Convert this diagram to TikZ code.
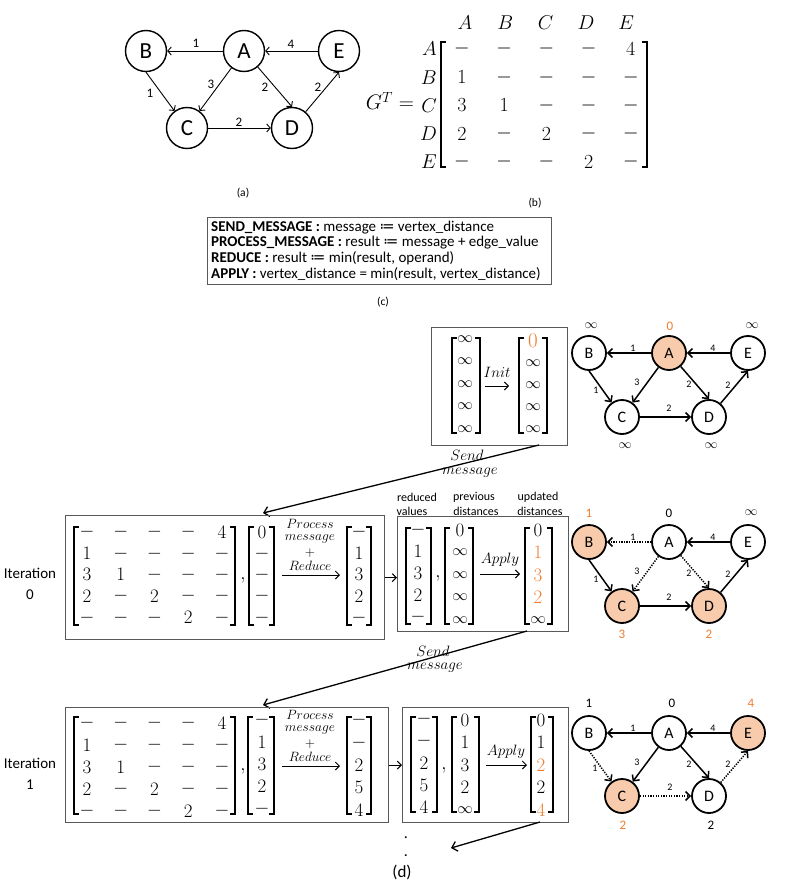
\RequirePackage{fix-cm}
\documentclass[tikz,border=0pt]{standalone}
\usepackage{fontspec}
\setmainfont{Carlito}
\newfontfamily\dejavu{DejaVu Sans}
\usetikzlibrary{arrows.meta,calc}
\definecolor{org}{HTML}{ED7D31}
\definecolor{pch}{HTML}{F8CBAD}
\definecolor{bxc}{HTML}{595959}
\newcommand\fs[1]{\fontsize{#1}{#1}\selectfont}
\newcommand\inff{\mbox{\fs{15.5}$\infty$}}
\newcommand\brkt[5][1.6pt]{%
  \draw[line width=#1] (#2+5,#4) -- (#2,#4) -- (#2,#5) -- (#2+5,#5);
  \draw[line width=#1] (#3-5,#4) -- (#3,#4) -- (#3,#5) -- (#3-5,#5);}
\newcommand\vect[4]{\foreach \e [count=\i from 0] in {#4} {\node[ent] at (#1,{#2+\i*#3}) {$\e$};}}
\newcommand\mtx[5]{\foreach \r [count=\i from 0] in {#5} {\foreach \e [count=\j from 0] in \r {\node[ent] at ({#1+\j*#2},{#3+\i*#4}) {$\e$};}}}
\begin{document}
\begin{tikzpicture}[x=1pt,y=-1pt,
 vtxA/.style={circle,draw,line width=1.4pt,minimum size=41pt,inner sep=0pt,font=\fs{23}},
 vtxD/.style={circle,draw,line width=1.8pt,minimum size=34pt,inner sep=0pt,font=\fs{16}},
 hl/.style={fill=pch},
 earr/.style={-{Straight Barb[length=3.5pt,width=8pt]},line width=0.9pt},
 darr/.style={-{Straight Barb[length=4.5pt,width=9pt]},line width=1.5pt},
 dotl/.style={dash pattern=on 1.3pt off 1.3pt},
 elA/.style={font=\fs{13},inner sep=0pt},
 elD/.style={font=\fs{10},inner sep=0pt},
 val/.style={font=\fs{13},inner sep=0pt},
 ent/.style={font=\fs{19},inner sep=0pt},
 lbl/.style={font=\fs{15},inner sep=0pt},
 stk/.style={font=\fs{13.5},inner sep=0pt},
 sml/.style={font=\fs{12},inner sep=0pt},
 ctxt/.style={font=\fs{15},anchor=base west,inner sep=0pt},
 box/.style={draw=bxc,line width=1.2pt,anchor=north west,inner sep=0pt},
 sarr/.style={-{Straight Barb[length=5pt,width=10pt]},line width=1.3pt},
 marr/.style={-{Straight Barb[length=4pt,width=8pt]},line width=1pt},
]
\path[use as bounding box] (0,0) rectangle (804,885);

% ---------- (a) ----------
\node[vtxA] (aB) at (146,51) {B};
\node[vtxA] (aA) at (244,51) {A};
\node[vtxA] (aE) at (339,51) {E};
\node[vtxA] (aC) at (187,128) {C};
\node[vtxA] (aD) at (292,128) {D};
\draw[earr] (aA) -- (aB);
\draw[earr] (aE) -- (aA);
\draw[earr] (aA) -- (aC);
\draw[earr] (aA) -- (aD.north);
\draw[earr] (aB.south) -- (aC);
\draw[earr] (aC) -- (aD);
\draw[earr] (aD) -- (aE.south);
\node[elA] (la1) at (196,43) {1};
\node[elA] (la2) at (291,44) {4};
\node[elA] (la3) at (211,84) {3};
\node[elA] (la4) at (265,87) {2};
\node[elA] (la5) at (318,87) {2};
\node[elA] (la6) at (150,93) {1};
\node[elA] (la7) at (239,122) {2};
\node[font=\fs{11.5}] (capa) at (243,193) {(a)};

% ---------- (b) ----------
\begin{scope}[ent/.append style={font=\fs{20}}]
\node[ent,font=\fs{21}] (gt) at (390,101) {$G^T =$};
\foreach \h [count=\j from 0] in {A,B,C,D,E} \node[ent] (h\h) at ({465+\j*40.3},23) {$\h$};
\foreach \h [count=\i from 0] in {A,B,C,D,E} \node[ent,anchor=east] (r\h) at (437,{49+\i*28.2}) {$\h$};
\brkt[2pt]{441}{647}{42}{167}
\mtx{462}{42.2}{49}{28.2}{{-,-,-,-,4},{1,-,-,-,-},{3,1,-,-,-},{2,-,2,-,-},{-,-,-,2,-}}
\end{scope}
\node[font=\fs{11.5}] (capb) at (535,203) {(b)};

% ---------- (c) ----------
\node[box,minimum width=344pt,minimum height=67pt] (cbox) at (207,217) {};
\node[ctxt] (ct1) at (211,231.5) {\textbf{SEND\_MESSAGE :} message {\dejavu ≔} vertex\_distance};
\node[ctxt] (ct2) at (211,247) {\textbf{PROCESS\_MESSAGE :} result {\dejavu ≔} message + edge\_value};
\node[ctxt] (ct3) at (211,262.5) {\textbf{REDUCE :} result {\dejavu ≔} min(result, operand)};
\node[ctxt] (ct4) at (211,278) {\textbf{APPLY :} vertex\_distance = min(result, vertex\_distance)};
\node[font=\fs{11.5}] (capc) at (383,302) {(c)};

% ---------- (d) init ----------
\node[box,minimum width=136pt,minimum height=118pt] (ibox) at (431,327) {};
\brkt{452}{480}{338}{433}
\vect{465}{339}{22.5}{\inff,\inff,\inff,\inff,\inff}
\brkt{519}{547}{338}{433}
\node[ent,text=org,font=\fs{21}] (i0) at (533,341) {$0$};
\vect{533}{363}{22}{\inff,\inff,\inff,\inff}
\node[lbl] (init) at (497,372) {$Init$};
\draw[marr] (485,386) -- (509,386);

\begin{scope}[shift={(0,353)}]
\node[vtxD] (iB) at (589,0) {B};
\node[vtxD,hl] (iA) at (669,0) {A};
\node[vtxD] (iE) at (748,0) {E};
\node[vtxD] (iC) at (622,64) {C};
\node[vtxD] (iD) at (709,64) {D};
\draw[darr] (iA) -- (iB);
\draw[darr] (iE) -- (iA);
\draw[darr] (iA) -- (iC);
\draw[darr] (iA) -- (iD.north);
\draw[darr] (iB.south) -- (iC);
\draw[darr] (iC) -- (iD);
\draw[darr] (iD) -- (iE.south);
\node[elD] at (633,-5) {1};
\node[elD] at (713,-5) {4};
\node[elD] at (637,29) {3};
\node[elD] at (689,31) {2};
\node[elD] at (728,32) {2};
\node[elD] at (596,37) {1};
\node[elD] at (669,55) {2};
\node[val] (ivB) at (591,-27) {$\infty$};
\node[val,text=org] (ivA) at (670,-27) {0};
\node[val] (ivE) at (752,-27) {$\infty$};
\node[val] (ivC) at (625,93) {$\infty$};
\node[val] (ivD) at (711,93) {$\infty$};
\end{scope}

\coordinate (s1a) at (539,445);
\coordinate (s1b) at (263,513);
\draw[sarr] (s1a) -- (s1b);
\node[lbl] (send1) at (467,455) {$Send$};
\node[lbl] (msg1) at (470,473) {$message$};

% ---------- iteration 0 ----------
\node[font=\fs{15}] (it0a) at (30,573) {Iteration};
\node[font=\fs{15}] (it0b) at (30,595) {0};
\node[box,minimum width=319pt,minimum height=124pt] (b0) at (65,515) {};
\brkt{74}{235}{527}{625}
\mtx{87}{33.75}{532}{21.4}{{-,-,-,-,4},{1,-,-,-,-},{3,1,-,-,-},{2,-,2,-,-},{-,-,-,2,-}}
\node[ent] at (243,580) {$,$};
\brkt{249}{274}{527}{625}
\vect{262}{532}{21.4}{0,-,-,-,-}
\node[stk] at (310,524) {$Process$};
\node[stk] at (310,539) {$message$};
\node[stk] at (310,553) {$+$};
\node[stk] at (310,566) {$Reduce$};
\draw[marr] (282,575) -- (340,575);
\brkt{347}{371}{527}{625}
\vect{359}{532}{21.4}{-,1,3,2,-}

\node[box,minimum width=171pt,minimum height=115pt] (b1) at (397,516) {};
\draw[marr] (b0.east) -- (b1.west |- b0.east);
\node[sml] at (417,497) {reduced};
\node[sml] at (412,511) {values};
\node[sml] at (474,497) {previous};
\node[sml] at (476,511) {distances};
\node[sml] at (538,497) {updated};
\node[sml] at (540,511) {distances};
\brkt{406}{431}{528}{624}
\vect{418}{530}{21.75}{-,1,3,2,-}
\node[ent] at (438,578) {$,$};
\brkt{445}{473}{528}{624}
\vect{460}{530}{22.5}{0,\inff,\inff,\inff,\inff}
\node[lbl] at (500,560) {$Apply$};
\draw[marr] (480,574) -- (520,574);
\brkt{525}{552}{528}{624}
\vect{538}{530}{22.5}{0,\color{org}1,\color{org}3,\color{org}2,\inff}

\begin{scope}[shift={(0,542)}]
\node[vtxD,hl] (pB) at (589,0) {B};
\node[vtxD] (pA) at (669,0) {A};
\node[vtxD] (pE) at (748,0) {E};
\node[vtxD,hl] (pC) at (622,64) {C};
\node[vtxD,hl] (pD) at (709,64) {D};
\draw[darr,dotl] (pA) -- (pB);
\draw[darr] (pE) -- (pA);
\draw[darr,dotl] (pA) -- (pC);
\draw[darr,dotl] (pA) -- (pD.north);
\draw[darr] (pB.south) -- (pC);
\draw[darr] (pC) -- (pD);
\draw[darr] (pD) -- (pE.south);
\node[elD] at (633,-5) {1};
\node[elD] at (713,-5) {4};
\node[elD] at (637,29) {3};
\node[elD] at (689,31) {2};
\node[elD] at (728,32) {2};
\node[elD] at (596,37) {1};
\node[elD] at (669,55) {2};
\node[val,text=org] (pvB) at (589,-29) {1};
\node[val] (pvA) at (669,-29) {0};
\node[val] (pvE) at (751,-29) {$\infty$};
\node[val,text=org] (pvC) at (622,92) {3};
\node[val,text=org] (pvD) at (709,92) {2};
\end{scope}

\coordinate (s2a) at (527,631);
\coordinate (s2b) at (263,705);
\draw[sarr] (s2a) -- (s2b);
\node[lbl] (send2) at (433,651) {$Send$};
\node[lbl] (msg2) at (435,668) {$message$};

% ---------- iteration 1 ----------
\node[font=\fs{15}] (it1a) at (30,763) {Iteration};
\node[font=\fs{15}] (it1b) at (30,785) {1};
\node[box,minimum width=323pt,minimum height=115pt] (bb0) at (65,707) {};
\brkt{74}{235}{717}{814}
\mtx{87}{33.75}{723}{22}{{-,-,-,-,4},{1,-,-,-,-},{3,1,-,-,-},{2,-,2,-,-},{-,-,-,2,-}}
\node[ent] at (243,771) {$,$};
\brkt{248}{274}{717}{814}
\vect{262}{720}{22.2}{-,1,3,2,-}
\node[stk] at (310,715) {$Process$};
\node[stk] at (310,730) {$message$};
\node[stk] at (310,744) {$+$};
\node[stk] at (310,757) {$Reduce$};
\draw[marr] (282,766) -- (340,766);
\brkt{347}{371}{717}{814}
\vect{359}{720}{22.5}{-,-,2,5,4}

\node[box,minimum width=166pt,minimum height=115pt] (bb1) at (402,707) {};
\draw[marr] (bb0.east) -- (bb1.west |- bb0.east);
\brkt{411}{437}{717}{812}
\vect{424}{719}{22}{-,-,2,5,4}
\node[ent] at (444,770) {$,$};
\brkt{452}{479}{717}{812}
\vect{465}{720}{22.5}{0,1,3,2,\inff}
\node[lbl] at (506,752) {$Apply$};
\draw[marr] (486,765) -- (527,765);
\brkt{531}{553}{717}{812}
\vect{541}{720}{22.5}{0,1,\color{org}2,2,\color{org}4}

\begin{scope}[shift={(0,733)}]
\node[vtxD] (qB) at (589,0) {B};
\node[vtxD] (qA) at (669,0) {A};
\node[vtxD,hl] (qE) at (748,0) {E};
\node[vtxD,hl] (qC) at (622,63) {C};
\node[vtxD] (qD) at (709,63) {D};
\draw[darr] (qA) -- (qB);
\draw[darr] (qE) -- (qA);
\draw[darr] (qA) -- (qC);
\draw[darr] (qA) -- (qD.north);
\draw[darr,dotl] (qB.south) -- (qC);
\draw[darr,dotl] (qC) -- (qD);
\draw[darr,dotl] (qD) -- (qE.south);
\node[elD] at (633,-5) {1};
\node[elD] at (713,-5) {4};
\node[elD] at (637,29) {3};
\node[elD] at (689,31) {2};
\node[elD] at (728,31) {2};
\node[elD] at (595,35) {1};
\node[elD] at (670,54) {2};
\node[val] (qvB) at (589,-30) {1};
\node[val] (qvA) at (672,-30) {0};
\node[val,text=org] (qvE) at (751,-30) {4};
\node[val,text=org] (qvC) at (623,92) {2};
\node[val] (qvD) at (711,92) {2};
\end{scope}

\coordinate (s3a) at (540,822);
\coordinate (s3b) at (451,848);
\draw[sarr] (s3a) -- (s3b);
\node[font=\fs{16}] (dot1) at (406,838) {.};
\node[font=\fs{16}] (dot2) at (406,856) {.};
\node[font=\fs{17}] (capd) at (402,872) {(d)};
\end{tikzpicture}
\end{document}
